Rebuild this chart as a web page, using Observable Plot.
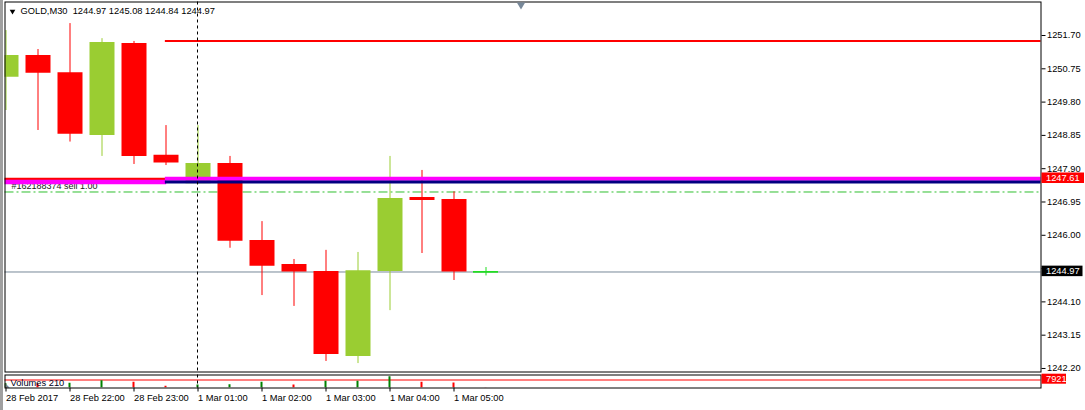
<!DOCTYPE html>
<html>
<head>
<meta charset="utf-8">
<script src="https://cdn.jsdelivr.net/npm/d3@7"></script>
<script src="https://cdn.jsdelivr.net/npm/@observablehq/plot@0.6"></script>
<style>
  html, body { margin: 0; padding: 0; background: #fff; }
  body { width: 1085px; height: 410px; overflow: hidden; position: relative; }
  #chart svg { display: block; background: transparent; }
  #edge { position: absolute; left: 0; top: 0; width: 3px; height: 410px; background: #a0a0a0; }
</style>
</head>
<body>
<div id="chart"></div>
<div id="edge"></div>
<script>
// ---------------- data ----------------
const symbol = "GOLD";
const timeframe = "M30";
const barTimes = ["28 Feb 21:00","28 Feb 21:30","28 Feb 22:00","28 Feb 22:30","28 Feb 23:00","28 Feb 23:30",
                  "1 Mar 01:00","1 Mar 01:30","1 Mar 02:00","1 Mar 02:30","1 Mar 03:00","1 Mar 03:30",
                  "1 Mar 04:00","1 Mar 04:30","1 Mar 05:00","1 Mar 05:30"];
const open  = [1250.51,1251.13,1250.64,1248.85,1251.47,1248.28,1247.47,1248.05,1245.85,1245.17,1244.97,1242.54,1244.97,1247.08,1247.02,1244.97];
const high  = [1251.84,1251.30,1252.04,1251.61,1251.53,1249.13,1249.13,1248.25,1246.39,1245.31,1245.57,1245.51,1248.25,1247.85,1247.24,1245.08];
const low   = [1249.56,1248.99,1248.66,1248.25,1248.02,1247.99,1247.46,1245.63,1244.28,1243.97,1242.40,1242.34,1243.85,1245.48,1244.71,1244.84];
const close = [1251.13,1250.62,1248.88,1251.50,1248.25,1248.06,1248.05,1245.83,1245.12,1244.95,1242.60,1244.99,1247.05,1246.99,1244.95,1244.97];
const volume = [4300,3900,4750,7130,5740,1780,3070,3100,5740,3080,6730,6790,11190,5720,5050,210];

const timeAxisBars   = [0, 2, 4, 6, 8, 10, 12, 14];
const timeAxisLabels = ["28 Feb 2017","28 Feb 22:00","28 Feb 23:00","1 Mar 01:00","1 Mar 02:00","1 Mar 03:00","1 Mar 04:00","1 Mar 05:00"];
const priceTicks = [1251.70,1250.75,1249.80,1248.85,1247.90,1246.95,1246.00,1245.05,1244.10,1243.15,1242.20];

const daySeparator = "1 Mar 01:00";
const bidPrice = 1244.97;
const resistancePrice = 1251.54;
const resistanceFromBar = 5;
const orderPrice = 1247.61;
const orderPrice2 = 1247.52;
const orderSplitBar = 5;
const orderLabel = "#162188374 sell 1.00";
const pendingPrice = 1247.235;
const volumeLevel = 7921;

// ---------------- layout ----------------
const W = 1085;
const mL = 4.5, mR = 44.5;
const barPx = 32, firstBarPx = 5.5, bodyPx = 25;
const xLo = (mL - firstBarPx) / barPx;
const xHi = (W - mR - firstBarPx) / barPx;
const halfBody = bodyPx / barPx / 2;
// price calibration: 1251.70 sits at 35px, 35.05 px per point
const priceAt = px => 1251.70 - (px - 35) / 35.05;
const mainH = 373, mainTop = 1.5, mainBottom = 1.5;
const yDomain = [priceAt(mainH - mainBottom), priceAt(mainTop)];

const volH = 37, volTop = 1.5, volBottom = 22.5;
const volDomain = [0, volumeLevel / 8 * (volH - volTop - volBottom)];

const bull = "#9acd32", bear = "#ff0000", doji = "#22dd22";
const bars = d3.range(open.length);
const candleColor = i => close[i] > open[i] ? bull : close[i] < open[i] ? bear : doji;
const volColor = i => i === 0 || volume[i] >= volume[i - 1] ? "#008000" : "#ff0000";
const sepIndex = barTimes.indexOf(daySeparator);
const last = open.length - 1;
const header = `${symbol},${timeframe}  ${open[last].toFixed(2)} ${high[last].toFixed(2)} ${low[last].toFixed(2)} ${close[last].toFixed(2)}`;

const font = "'Liberation Sans', Arial, sans-serif";

function priceTags(tags, h) {
  return (index, scales, values, dims) => {
    const g = d3.create("svg:g");
    const x0 = dims.width - dims.marginRight + 1;
    for (const t of tags) {
      const y = scales.y(t.value) + (t.shift || 0);
      g.append("rect").attr("x", x0).attr("y", y - h / 2).attr("width", t.w).attr("height", h).attr("fill", t.fill);
      g.append("text").attr("x", x0 + 4.5).attr("y", y).attr("dy", "0.36em")
        .attr("text-anchor", "start")
        .attr("fill", "white").attr("font-size", "9.3px").attr("font-family", font).text(t.label);
    }
    return g.node();
  };
}

const main = Plot.plot({
  width: W, height: mainH,
  marginLeft: mL, marginRight: mR, marginTop: mainTop, marginBottom: mainBottom,
  style: {fontFamily: font, fontSize: "9.3px", background: "transparent", color: "black"},
  x: {domain: [xLo, xHi], axis: null},
  y: {domain: yDomain, axis: null},
  color: {type: "identity"},
  marks: [
    Plot.ruleY([bidPrice], {stroke: "#778899", strokeWidth: 1, dy: 0.6}),
    Plot.ruleY([pendingPrice], {stroke: "#2fbf2f", strokeWidth: 1, strokeDasharray: "9,3,2,3"}),
    Plot.ruleX(bars, {x: i => i, y1: i => low[i], y2: i => high[i], stroke: candleColor, strokeWidth: 1, clip: true}),
    Plot.ruleX(bars.filter(i => open[i] !== close[i]), {x: i => i, y1: i => open[i], y2: i => close[i], stroke: candleColor, strokeWidth: bodyPx, strokeLinecap: "butt", clip: true}),
    Plot.ruleY(bars.filter(i => open[i] === close[i]), {y: i => close[i], x1: i => i - halfBody, x2: i => i + halfBody, stroke: candleColor, strokeWidth: 1.6, dy: 0.5, clip: true}),
    Plot.text([orderLabel], {frameAnchor: "left", y: () => orderPrice2, dx: 6.5, dy: 7.2, lineAnchor: "bottom", textAnchor: "start", fill: "#202020", fontSize: 9}),
    Plot.ruleY([orderPrice], {y: d => d, x1: () => xLo, x2: () => orderSplitBar, stroke: "#ff0000", strokeWidth: 2.3}),
    Plot.ruleY([orderPrice2], {y: d => d, x1: () => xLo, x2: () => orderSplitBar + 0.02, stroke: "#ff00ff", strokeWidth: 4.4}),
    Plot.ruleY([orderPrice], {y: d => d, x1: () => orderSplitBar - 0.02, x2: () => xHi, stroke: "#ff00ff", strokeWidth: 4}),
    Plot.ruleY([orderPrice2], {y: d => d, x1: () => orderSplitBar - 0.02, x2: () => xHi, stroke: "#000080", strokeWidth: 3}),
    Plot.ruleY([resistancePrice], {y: d => d, x1: () => resistanceFromBar - 0.02, x2: () => xHi, stroke: "#ff0000", strokeWidth: 2}),
    Plot.ruleX([sepIndex], {stroke: "black", strokeWidth: 1, strokeDasharray: "3,3", dx: -0.5}),
    Plot.axisY(priceTicks, {anchor: "right", tickSize: 4, tickPadding: 2, tickFormat: d => d.toFixed(2), stroke: "black", fill: "black"}),
    Plot.frame({stroke: "black", strokeWidth: 1}),
    Plot.dot([header], {frameAnchor: "top-left", dx: 7.5, dy: 9.3, symbol: "triangle", rotate: 180, r: 2.1, fill: "black", stroke: null}),
    Plot.text([header], {frameAnchor: "top-left", dx: 15.5, dy: 5.4, lineAnchor: "top", textAnchor: "start", text: d => d, fill: "black"}),
    Plot.dot([header], {frameAnchor: "top", dx: -2, dy: 2.8, symbol: "triangle", rotate: 180, r: 3.1, fill: "#778899", stroke: null}),
    priceTags([
      {value: orderPrice, label: orderPrice.toFixed(2), fill: "#ff0000", w: 42.5, shift: -0.6},
      {value: bidPrice, label: bidPrice.toFixed(2), fill: "#000000", w: 41}
    ], 10.5)
  ]
});

const vol = Plot.plot({
  width: W, height: volH,
  marginLeft: mL, marginRight: mR, marginTop: volTop, marginBottom: volBottom,
  style: {fontFamily: font, fontSize: "9.3px", background: "transparent", color: "black"},
  x: {domain: [xLo, xHi], axis: null},
  y: {domain: volDomain, axis: null},
  color: {type: "identity"},
  marks: [
    Plot.ruleY([volumeLevel], {stroke: "#ff0000", strokeWidth: 1.2}),
    Plot.ruleX(bars, {x: i => i, y1: 0, y2: i => volume[i], stroke: volColor, strokeWidth: 2, dx: -0.5, clip: true}),
    Plot.ruleX([sepIndex], {stroke: "black", strokeWidth: 1, strokeDasharray: "3,3", dx: -0.5}),
    Plot.text([`Volumes ${volume[last]}`], {frameAnchor: "left", dx: 5.5, dy: 4.8, lineAnchor: "bottom", textAnchor: "start", text: d => d, fill: "#000020"}),
    Plot.text(["◣"], {frameAnchor: "left", dx: 0.2, dy: 5, lineAnchor: "bottom", textAnchor: "start", text: d => d, fill: "#808080", fontSize: 6}),
    Plot.frame({stroke: "black", strokeWidth: 1}),
    Plot.axisX(timeAxisBars, {anchor: "bottom", tickSize: 4, tickPadding: 2, textAnchor: "start", dx: 0, tickFormat: d => timeAxisLabels[timeAxisBars.indexOf(d)], stroke: "black", fill: "black"}),
    priceTags([
      {value: volumeLevel, label: String(volumeLevel), fill: "#ff0000", w: 24.5, shift: -0.8}
    ], 10)
  ]
});

const root = document.getElementById("chart");
root.append(main, vol);
</script>
</body>
</html>
